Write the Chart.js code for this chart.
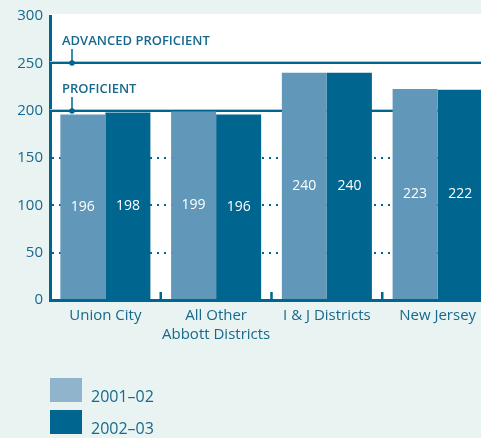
<!DOCTYPE html>
<html>
<head>
<meta charset="utf-8">
<script src="https://cdn.jsdelivr.net/npm/chart.js@4.4.0/dist/chart.umd.min.js"></script>
<style>
  html, body { margin: 0; padding: 0; background: #e9f3f1; overflow: hidden; }
  #wrap { width: 493px; height: 438px; position: relative; }
</style>
</head>
<body>
<div id="wrap"><canvas id="scoreChart"></canvas></div>
<script>
var districts = ['Union City', ['All Other', 'Abbott Districts'], 'I & J Districts', 'New Jersey'];
var scores_2001_02 = [196, 199, 240, 223];
var scores_2002_03 = [198, 196, 240, 222];
var yearLabels = ['2001–02', '2002–03'];
var levelValues = [250, 200];
var levelNames = ['ADVANCED PROFICIENT', 'PROFICIENT'];
var dottedValues = [50, 100, 150];

var DARK = '#00668f';
var LIGHT = '#6198b9';
var TEXT = '#17698d';

Chart.defaults.font.family = "'Open Sans', sans-serif";

// white plot panel behind everything
var plotPanel = {
    id: 'plotPanel',
    beforeDraw: function (chart) {
        var a = chart.chartArea, ctx = chart.ctx;
        ctx.save();
        ctx.fillStyle = '#ffffff';
        ctx.fillRect(a.left, a.top - 2, a.right - a.left, a.bottom - a.top + 2);
        ctx.restore();
    }
};

// proficiency cut lines with their captions, values and legend
var levelLines = {
    id: 'levelLines',
    beforeDatasetsDraw: function (chart) {
        var a = chart.chartArea, ctx = chart.ctx, y = chart.scales.y;
        ctx.save();
        for (var i = 0; i < levelValues.length; i++) {
            var py = Math.round(y.getPixelForValue(levelValues[i]));
            ctx.strokeStyle = DARK;
            ctx.lineWidth = 2;
            ctx.beginPath();
            ctx.moveTo(a.left, py);
            ctx.lineTo(a.right, py);
            ctx.stroke();
            ctx.strokeStyle = '#a8c8d7';
            ctx.lineWidth = 1;
            ctx.beginPath();
            ctx.moveTo(a.left, py - 1.5);
            ctx.lineTo(a.right, py - 1.5);
            ctx.stroke();

            var mx = a.left + 22;
            ctx.strokeStyle = DARK;
            ctx.lineWidth = 1.5;
            ctx.beginPath();
            ctx.moveTo(mx, py - 14);
            ctx.lineTo(mx, py);
            ctx.stroke();
            ctx.fillStyle = DARK;
            ctx.beginPath();
            ctx.arc(mx, py, 2.8, 0, Math.PI * 2);
            ctx.fill();

            ctx.fillStyle = TEXT;
            ctx.font = "600 13px 'Open Sans', sans-serif";
            ctx.textAlign = 'left';
            ctx.textBaseline = 'alphabetic';
            ctx.fillText(levelNames[i], a.left + 12, py - 18);
        }
        ctx.restore();
    },
    afterDatasetsDraw: function (chart) {
        var a = chart.chartArea, ctx = chart.ctx;
        // short inner ticks between groups
        ctx.save();
        ctx.strokeStyle = DARK;
        ctx.lineWidth = 2.5;
        var x = chart.scales.x;
        for (var i = 0; i < districts.length - 1; i++) {
            var bx = (x.getPixelForValue(i) + x.getPixelForValue(i + 1)) / 2;
            ctx.beginPath();
            ctx.moveTo(bx, a.bottom - 8);
            ctx.lineTo(bx, a.bottom);
            ctx.stroke();
        }
        // values in the middle of each bar
        ctx.fillStyle = '#ffffff';
        ctx.font = "14px 'Open Sans', sans-serif";
        ctx.textAlign = 'center';
        ctx.textBaseline = 'middle';
        chart.data.datasets.forEach(function (ds, d) {
            chart.getDatasetMeta(d).data.forEach(function (bar, j) {
                ctx.fillText(String(ds.data[j]), bar.x, (bar.y + bar.base) / 2);
            });
        });
        ctx.restore();
    },
    afterDraw: function (chart) {
        var ctx = chart.ctx;
        ctx.save();
        ctx.font = "16px 'Open Sans', sans-serif";
        ctx.textAlign = 'left';
        ctx.textBaseline = 'alphabetic';
        chart.data.datasets.forEach(function (ds, d) {
            var top = 378 + d * 32;
            ctx.fillStyle = ds.legendColor;
            ctx.fillRect(50, top, 32, 24);
            ctx.fillStyle = TEXT;
            ctx.fillText(ds.label, 91, top + 24);
        });
        ctx.restore();
    }
};

var ScoreChartElement = document.getElementById('scoreChart').getContext('2d');
var ScoreChart = new Chart(ScoreChartElement, {
    type: 'bar',
    data: {
        labels: districts,
        datasets: [
            { label: yearLabels[0], data: scores_2001_02, backgroundColor: LIGHT, legendColor: '#90b4cc', borderWidth: 0 },
            { label: yearLabels[1], data: scores_2002_03, backgroundColor: DARK, legendColor: DARK, borderWidth: 0 }
        ]
    },
    plugins: [plotPanel, levelLines],
    options: {
        responsive: true,
        maintainAspectRatio: false,
        animation: false,
        layout: { padding: { top: 12, left: 0, right: 0, bottom: 0 } },
        categoryPercentage: 0.813,
        barPercentage: 1.0,
        plugins: {
            legend: { display: false },
            tooltip: { enabled: false }
        },
        scales: {
            x: {
                z: 1,
                grid: { display: false, drawTicks: false },
                border: { display: true, color: DARK, width: 3 },
                ticks: {
                    color: TEXT,
                    padding: 6,
                    font: { size: 15, lineHeight: 1.27 },
                    maxRotation: 0,
                    autoSkip: false
                },
                afterFit: function (scale) { scale.height = 138; }
            },
            y: {
                min: 0,
                max: 300,
                grid: {
                    drawTicks: false,
                    lineWidth: 2,
                    color: function (ctx) {
                        return ctx.tick && dottedValues.indexOf(ctx.tick.value) >= 0 ? DARK : 'transparent';
                    }
                },
                // in v4 the dash of the grid lines lives on border
                border: { display: true, color: DARK, width: 3, dash: [2, 5], dashOffset: 0 },
                ticks: {
                    stepSize: 50,
                    color: TEXT,
                    padding: 7,
                    font: { size: 15 }
                },
                afterFit: function (scale) { scale.width = 50; }
            }
        }
    }
});
</script>
</body>
</html>
